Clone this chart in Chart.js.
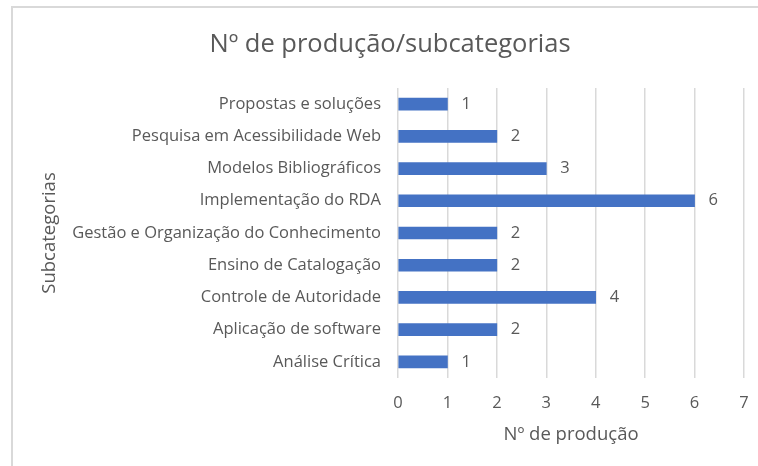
<!DOCTYPE html>
<html lang="pt">
<head>
    <meta charset="UTF-8">
    <title>Nº de produção/subcategorias</title>
    <style>
        body {
            margin: 0;
            padding: 0;
            background-color: #fff;
            font-family: "Open Sans", sans-serif;
        }

        .frame {
            position: absolute;
            left: 11px;
            top: 6px;
            width: 800px;
            height: 500px;
            border-left: 2px solid #d9d9d9;
            border-top: 2px solid #d9d9d9;
        }

        .chart-container {
            position: absolute;
            left: 0;
            top: 0;
            width: 758px;
            height: 466px;
        }
    </style>
</head>
<body>
    <div class="frame"></div>
    <div class="chart-container">
        <canvas id="prodChart" width="758" height="466"></canvas>
    </div>

    <script src="https://cdn.jsdelivr.net/npm/chart.js"></script>
    <script>
        const subcategorias = [
            'Propostas e soluções',
            'Pesquisa em Acessibilidade Web',
            'Modelos Bibliográficos',
            'Implementação do RDA',
            'Gestão e Organização do Conhecimento',
            'Ensino de Catalogação',
            'Controle de Autoridade',
            'Aplicação de software',
            'Análise Crítica'
        ];
        const producao = [1, 2, 3, 6, 2, 2, 4, 2, 1];
        const xTicks = [0, 1, 2, 3, 4, 5, 6, 7];

        const textColor = '#595959';
        const fontFamily = '"Open Sans", sans-serif';

        // value labels to the right of each bar
        const valueLabels = {
            id: 'valueLabels',
            afterDatasetsDraw(chart) {
                const ctx = chart.ctx;
                const meta = chart.getDatasetMeta(0);
                ctx.save();
                ctx.fillStyle = textColor;
                ctx.font = '16.5px ' + fontFamily;
                ctx.textAlign = 'left';
                ctx.textBaseline = 'middle';
                meta.data.forEach((bar, i) => {
                    ctx.fillText(String(producao[i]), bar.x + 14, bar.y);
                });
                ctx.restore();
            }
        };

        const ctx = document.getElementById('prodChart').getContext('2d');
        new Chart(ctx, {
            type: 'bar',
            data: {
                labels: subcategorias,
                datasets: [{
                    data: producao,
                    backgroundColor: '#4472C4',
                    barThickness: 12
                }]
            },
            plugins: [valueLabels],
            options: {
                indexAxis: 'y',
                responsive: false,
                animation: false,
                devicePixelRatio: 1,
                layout: {
                    padding: { left: 36, right: 14, top: 20, bottom: 21 }
                },
                plugins: {
                    legend: { display: false },
                    tooltip: { enabled: false },
                    title: {
                        display: true,
                        text: 'Nº de produção/subcategorias',
                        color: textColor,
                        font: { family: fontFamily, size: 25.5, weight: 'normal' },
                        padding: { top: 9.2, bottom: 28.2 }
                    }
                },
                scales: {
                    x: {
                        min: 0,
                        max: 7,
                        afterBuildTicks: scale => {
                            scale.ticks = xTicks.map(v => ({ value: v }));
                        },
                        afterFit: scale => {
                            scale.height = 67;
                            scale.paddingLeft = 0;
                            scale.paddingRight = 0;
                        },
                        grid: {
                            color: '#d9d9d9',
                            lineWidth: 1.5,
                            drawTicks: false
                        },
                        border: { display: false },
                        ticks: {
                            color: textColor,
                            font: { family: fontFamily, size: 16.5 },
                            padding: 15
                        },
                        title: {
                            display: true,
                            text: 'Nº de produção',
                            color: textColor,
                            font: { family: fontFamily, size: 18.5 },
                            padding: { top: 0, bottom: -1 }
                        }
                    },
                    y: {
                        afterFit: scale => { scale.width = 362; },
                        grid: { display: false, drawTicks: false },
                        border: { display: false },
                        ticks: {
                            color: textColor,
                            font: { family: fontFamily, size: 16.5 },
                            padding: 17
                        },
                        title: {
                            display: true,
                            text: 'Subcategorias',
                            color: textColor,
                            font: { family: fontFamily, size: 18.5 },
                            padding: { top: 3, bottom: 0 }
                        }
                    }
                }
            }
        });
    </script>
</body>
</html>
